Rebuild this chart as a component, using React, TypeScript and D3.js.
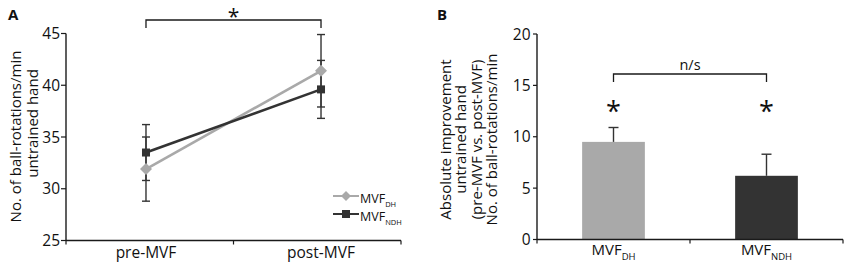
import React from "react";
import * as d3 from "d3";

// ---- Panel A data ----
const categoriesA = ["pre-MVF", "post-MVF"];
const dhMeans = [31.9, 41.4];
const dhErrors = [3.1, 3.5];
const ndhMeans = [33.5, 39.6];
const ndhErrors = [2.7, 2.8];
const ticksA = [25, 30, 35, 40, 45];

// ---- Panel B data ----
const barKeys = ["DH", "NDH"];
const barValues = [9.5, 6.2];
const barErrors = [1.4, 2.1];
const ticksB = [0, 5, 10, 15, 20];

const LIGHT = "#a9a9a9";
const DARK = "#333333";
const AXIS = "#1a1a1a";
const TEXT = "#111";
const FONT = "'Open Sans', 'DejaVu Sans', sans-serif";

function PanelA() {
  const x0 = 66, x1 = 401;
  const xA = d3.scalePoint<string>().domain(categoriesA).range([x0, x1]).padding(0.457);
  const yA = d3.scaleLinear().domain([25, 45]).range([240.5, 33.5]);
  const line = d3
    .line<number>()
    .x((_, i) => xA(categoriesA[i]) as number)
    .y((d) => yA(d));
  const series = [
    { key: "DH", means: dhMeans, errs: dhErrors, color: LIGHT, shape: "diamond" },
    { key: "NDH", means: ndhMeans, errs: ndhErrors, color: DARK, shape: "square" },
  ];
  const yBase = yA(25);
  const mid = (x0 + x1) / 2;
  const cap = 4;
  const pre = xA(categoriesA[0]) as number;
  const post = xA(categoriesA[1]) as number;
  return (
    <g>
      <text x={8} y={20} fontFamily={FONT} fontWeight="bold" fontSize={15} fill={TEXT}>A</text>
      {/* Y axis */}
      <line x1={x0} x2={x0} y1={yA(45)} y2={yBase} stroke={AXIS} strokeWidth={1.4} />
      {ticksA.map((t) => (
        <g key={t}>
          <line x1={x0 - 5} x2={x0} y1={yA(t)} y2={yA(t)} stroke={AXIS} strokeWidth={1.2} />
          <text x={60} y={yA(t) + 5.5} textAnchor="end" fontFamily={FONT} fontSize={15.5} fill={TEXT}>{t}</text>
        </g>
      ))}
      {/* X axis */}
      <line x1={x0} x2={x1} y1={yBase} y2={yBase} stroke={AXIS} strokeWidth={1.4} />
      {[x0, mid, x1].map((xx, i) => (
        <line key={i} x1={xx} x2={xx} y1={yBase} y2={yBase + 4} stroke={AXIS} strokeWidth={1.2} />
      ))}
      {categoriesA.map((c) => (
        <text key={c} x={xA(c) as number} y={258} textAnchor="middle" fontFamily={FONT} fontSize={15.5} fill={TEXT}>{c}</text>
      ))}
      {/* Y title */}
      <text transform={`translate(20.5,136.5) rotate(-90)`} textAnchor="middle" fontFamily={FONT} fontSize={15} fill={TEXT}>No. of ball-rotations/min</text>
      <text transform={`translate(37.5,123.5) rotate(-90)`} textAnchor="middle" fontFamily={FONT} fontSize={15} fill={TEXT}>untrained hand</text>
      {/* Significance bracket */}
      <path d={`M${pre},28V20H${post}V28`} fill="none" stroke={AXIS} strokeWidth={1.3} />
      <text x={mid} y={24} textAnchor="middle" fontFamily={FONT} fontSize={21} fill={TEXT}>*</text>
      {/* Lines */}
      {series.map((s) => (
        <path key={s.key} d={line(s.means) as string} fill="none" stroke={s.color} strokeWidth={2.6} />
      ))}
      {/* Error bars */}
      {series.map((s) =>
        s.means.map((m, i) => {
          const cx = xA(categoriesA[i]) as number;
          return (
            <g key={s.key + i} stroke={DARK} strokeWidth={1.4}>
              <line x1={cx} x2={cx} y1={yA(m - s.errs[i])} y2={yA(m + s.errs[i])} />
              <line x1={cx - cap} x2={cx + cap} y1={yA(m - s.errs[i])} y2={yA(m - s.errs[i])} />
              <line x1={cx - cap} x2={cx + cap} y1={yA(m + s.errs[i])} y2={yA(m + s.errs[i])} />
            </g>
          );
        })
      )}
      {/* Markers */}
      {series.map((s) =>
        s.means.map((m, i) => {
          const cx = xA(categoriesA[i]) as number;
          const cy = yA(m);
          return s.shape === "diamond" ? (
            <path key={s.key + "m" + i} d={`M${cx},${cy - 6}L${cx + 6},${cy}L${cx},${cy + 6}L${cx - 6},${cy}Z`} fill={s.color} />
          ) : (
            <rect key={s.key + "m" + i} x={cx - 4} y={cy - 4} width={8} height={8} fill={s.color} />
          );
        })
      )}
      {/* Legend */}
      {series.map((s, i) => {
        const ly = 196 + i * 18;
        return (
          <g key={"lg" + s.key}>
            <line x1={333} x2={359} y1={ly} y2={ly} stroke={s.color} strokeWidth={2} />
            {s.shape === "diamond" ? (
              <path d={`M346,${ly - 5}L351,${ly}L346,${ly + 5}L341,${ly}Z`} fill={s.color} />
            ) : (
              <rect x={342} y={ly - 4} width={8} height={8} fill={s.color} />
            )}
            <text x={360} y={ly + 7} fontFamily={FONT} fontSize={12.5} fill={TEXT}>
              MVF<tspan fontSize={7.5} dy={4}>{s.key}</tspan>
            </text>
          </g>
        );
      })}
    </g>
  );
}

function PanelB() {
  const x0 = 537, x1 = 843;
  const xB = d3.scaleBand<string>().domain(barKeys).range([x0, x1]).padding(0);
  const yB = d3.scaleLinear().domain([0, 20]).range([239.5, 34]);
  const bw = xB.bandwidth() * 0.41;
  const colors = [LIGHT, DARK];
  const yBase = yB(0);
  const mid = (x0 + x1) / 2;
  const c0 = (xB(barKeys[0]) as number) + xB.bandwidth() / 2;
  const c1 = (xB(barKeys[1]) as number) + xB.bandwidth() / 2;
  const titleLines = [
    "Absolute improvement",
    "untrained hand",
    "(pre-MVF vs. post-MVF)",
    "No. of ball-rotations/min",
  ];
  return (
    <g>
      <text x={437} y={20} fontFamily={FONT} fontWeight="bold" fontSize={15} fill={TEXT}>B</text>
      {/* bars */}
      {barKeys.map((k, i) => {
        const cx = (xB(k) as number) + xB.bandwidth() / 2;
        return (
          <g key={k}>
            <rect x={cx - bw / 2} y={yB(barValues[i])} width={bw} height={yBase - yB(barValues[i])} fill={colors[i]} />
            <line x1={cx} x2={cx} y1={yB(barValues[i])} y2={yB(barValues[i] + barErrors[i])} stroke={DARK} strokeWidth={1.4} />
            <line x1={cx - 5} x2={cx + 5} y1={yB(barValues[i] + barErrors[i])} y2={yB(barValues[i] + barErrors[i])} stroke={DARK} strokeWidth={1.4} />
            <text x={cx} y={121} textAnchor="middle" fontFamily={FONT} fontSize={27} fill={TEXT}>*</text>
          </g>
        );
      })}
      {/* Y axis */}
      <line x1={x0} x2={x0} y1={yB(20)} y2={yBase} stroke={AXIS} strokeWidth={1.4} />
      {ticksB.map((t) => (
        <g key={t}>
          <line x1={x0 - 4} x2={x0} y1={yB(t)} y2={yB(t)} stroke={AXIS} strokeWidth={1.2} />
          <text x={530.5} y={yB(t) + 5.5} textAnchor="end" fontFamily={FONT} fontSize={15.5} fill={TEXT}>{t}</text>
        </g>
      ))}
      {/* X axis */}
      <line x1={x0} x2={x1} y1={yBase} y2={yBase} stroke={AXIS} strokeWidth={1.4} />
      {[x0, mid, x1].map((xx, i) => (
        <line key={i} x1={xx} x2={xx} y1={yBase} y2={yBase + 4} stroke={AXIS} strokeWidth={1.2} />
      ))}
      {barKeys.map((k) => (
        <text key={k} x={(xB(k) as number) + xB.bandwidth() / 2} y={255} textAnchor="middle" fontFamily={FONT} fontSize={15} fill={TEXT}>
          MVF<tspan fontSize={9.5} dy={5}>{k}</tspan>
        </text>
      ))}
      {/* Y title */}
      {titleLines.map((l, i) => (
        <text key={i} transform={`translate(${451 + i * 15.3},139.5) rotate(-90)`} textAnchor="middle" fontFamily={FONT} fontSize={15} fill={TEXT}>{l}</text>
      ))}
      {/* bracket */}
      <path d={`M${c0},82V74H${c1}V82`} fill="none" stroke={AXIS} strokeWidth={1.3} />
      <text x={mid} y={70} textAnchor="middle" fontFamily={FONT} fontSize={14.5} fill={TEXT}>n/s</text>
    </g>
  );
}

export default function App() {
  return (
    <svg
      width={850}
      height={266}
      viewBox="0 0 850 266"
      style={{ position: "fixed", left: 0, top: 0, background: "#fff" }}
    >
      <rect width={850} height={266} fill="#fff" />
      <PanelA />
      <PanelB />
    </svg>
  );
}
